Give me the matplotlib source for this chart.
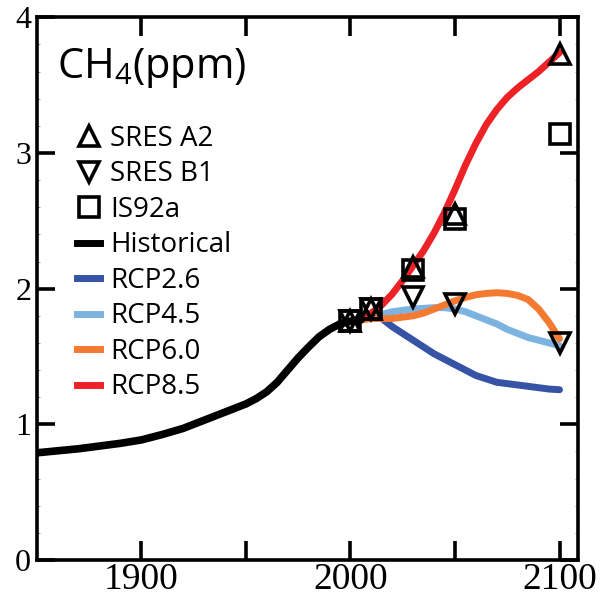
import matplotlib
matplotlib.use("Agg")
import matplotlib.pyplot as plt
from matplotlib.lines import Line2D
from matplotlib.ticker import FixedLocator, MultipleLocator

# ---------------- data ----------------
hist_years = [1850, 1860, 1870, 1880, 1890, 1900, 1910, 1920, 1930, 1940, 1950,
              1955, 1960, 1965, 1970, 1975, 1980, 1985, 1990, 1995, 2000, 2005]
hist_vals = [0.79, 0.805, 0.82, 0.84, 0.86, 0.885, 0.925, 0.97, 1.03, 1.09, 1.15,
             1.19, 1.24, 1.31, 1.40, 1.49, 1.57, 1.645, 1.70, 1.74, 1.76, 1.77]

rcp_years = [2005, 2010, 2015, 2020, 2025, 2030, 2035, 2040, 2045, 2050, 2055,
             2060, 2065, 2070, 2075, 2080, 2085, 2090, 2095, 2100]
rcp26 = [1.77, 1.80, 1.78, 1.72, 1.67, 1.62, 1.57, 1.52, 1.48, 1.44, 1.40,
         1.36, 1.335, 1.31, 1.30, 1.29, 1.28, 1.27, 1.26, 1.255]
rcp45 = [1.77, 1.79, 1.81, 1.83, 1.84, 1.85, 1.855, 1.86, 1.86, 1.85, 1.83,
         1.80, 1.77, 1.74, 1.70, 1.67, 1.64, 1.62, 1.60, 1.58]
rcp60 = [1.77, 1.78, 1.78, 1.78, 1.79, 1.80, 1.82, 1.85, 1.88, 1.91, 1.935,
         1.955, 1.965, 1.97, 1.965, 1.95, 1.92, 1.85, 1.75, 1.63]
rcp85 = [1.77, 1.82, 1.88, 1.96, 2.06, 2.17, 2.28, 2.41, 2.56, 2.73, 2.91,
         3.07, 3.21, 3.32, 3.41, 3.48, 3.54, 3.60, 3.67, 3.74]

sres_years = [2000, 2010, 2030, 2050, 2100]
sres_a2 = [1.76, 1.85, 2.16, 2.55, 3.73]
sres_b1 = [1.76, 1.85, 1.94, 1.89, 1.60]
is92a = [1.76, 1.85, 2.14, 2.51, 3.14]

x_ticks = [1900, 1950, 2000, 2050, 2100]
x_ticklabels = ["1900", "", "2000", "", "2100"]
y_ticks = [0, 1, 2, 3, 4]

colors = {"RCP2.6": "#3653a5", "RCP4.5": "#7db3e1", "RCP6.0": "#f47a32",
          "RCP8.5": "#ec2227", "Historical": "#000000"}

# ---------------- figure ----------------
plt.rcParams['mathtext.fontset'] = 'custom'
plt.rcParams['mathtext.rm'] = 'Open Sans'

fig = plt.figure(figsize=(6, 6.01), dpi=100)
ax = fig.add_axes([0.0612, 0.0682, 0.9027, 0.9030])

lw = 5
style = dict(solid_capstyle='round', solid_joinstyle='round')
ax.plot(rcp_years, rcp26, color=colors["RCP2.6"], lw=lw, **style)
ax.plot(rcp_years, rcp45, color=colors["RCP4.5"], lw=lw, **style)
ax.plot(rcp_years, rcp60, color=colors["RCP6.0"], lw=lw, **style)
ax.plot(rcp_years, rcp85, color=colors["RCP8.5"], lw=lw, **style)
ax.plot(hist_years, hist_vals, color=colors["Historical"], lw=5.5, **style)

mk = dict(ls='none', mfc='none', mec='black', ms=14, mew=2.6)
ax.plot(sres_years, sres_a2, marker='^', **mk)
ax.plot(sres_years, sres_b1, marker='v', **mk)
ax.plot(sres_years, is92a, marker='s', **mk)

ax.set_xlim(1850, 2109)
ax.set_ylim(0, 4)

ax.xaxis.set_major_locator(FixedLocator(x_ticks))
ax.set_xticklabels(x_ticklabels)
ax.yaxis.set_major_locator(FixedLocator(y_ticks))
ax.yaxis.set_minor_locator(MultipleLocator(0.2))

for s in ax.spines.values():
    s.set_linewidth(2.6)

ax.tick_params(axis='x', which='major', direction='in', length=14, width=2.6,
               top=True, bottom=True, pad=2, labelsize=27)
ax.tick_params(axis='y', which='major', direction='in', length=13, width=2.6,
               left=True, right=True, pad=4, labelsize=23)
ax.tick_params(axis='y', which='minor', direction='in', length=2, width=0.6,
               left=True, right=True, colors='#888888')
for lab in ax.get_xticklabels() + ax.get_yticklabels():
    lab.set_family('Liberation Serif')

ax.text(0.0375, 0.888, r"CH$_\mathrm{4}$(ppm)", transform=ax.transAxes,
        fontsize=30, family='Open Sans', ha='left', va='baseline')

handles = [
    Line2D([], [], marker='^', **mk),
    Line2D([], [], marker='v', **mk),
    Line2D([], [], marker='s', **mk),
    Line2D([], [], color=colors["Historical"], lw=5),
    Line2D([], [], color=colors["RCP2.6"], lw=5),
    Line2D([], [], color=colors["RCP4.5"], lw=5),
    Line2D([], [], color=colors["RCP6.0"], lw=5),
    Line2D([], [], color=colors["RCP8.5"], lw=5),
]
labels = ["SRES A2", "SRES B1", "IS92a", "Historical", "RCP2.6", "RCP4.5", "RCP6.0", "RCP8.5"]
ax.legend(handles, labels, loc='upper left', bbox_to_anchor=(0.074, 0.802),
          frameon=False, borderpad=0, borderaxespad=0, handlelength=0.85,
          handletextpad=0.35, labelspacing=0.27,
          prop={'family': 'Open Sans', 'size': 20})

fig.savefig("out.png", dpi=100)
